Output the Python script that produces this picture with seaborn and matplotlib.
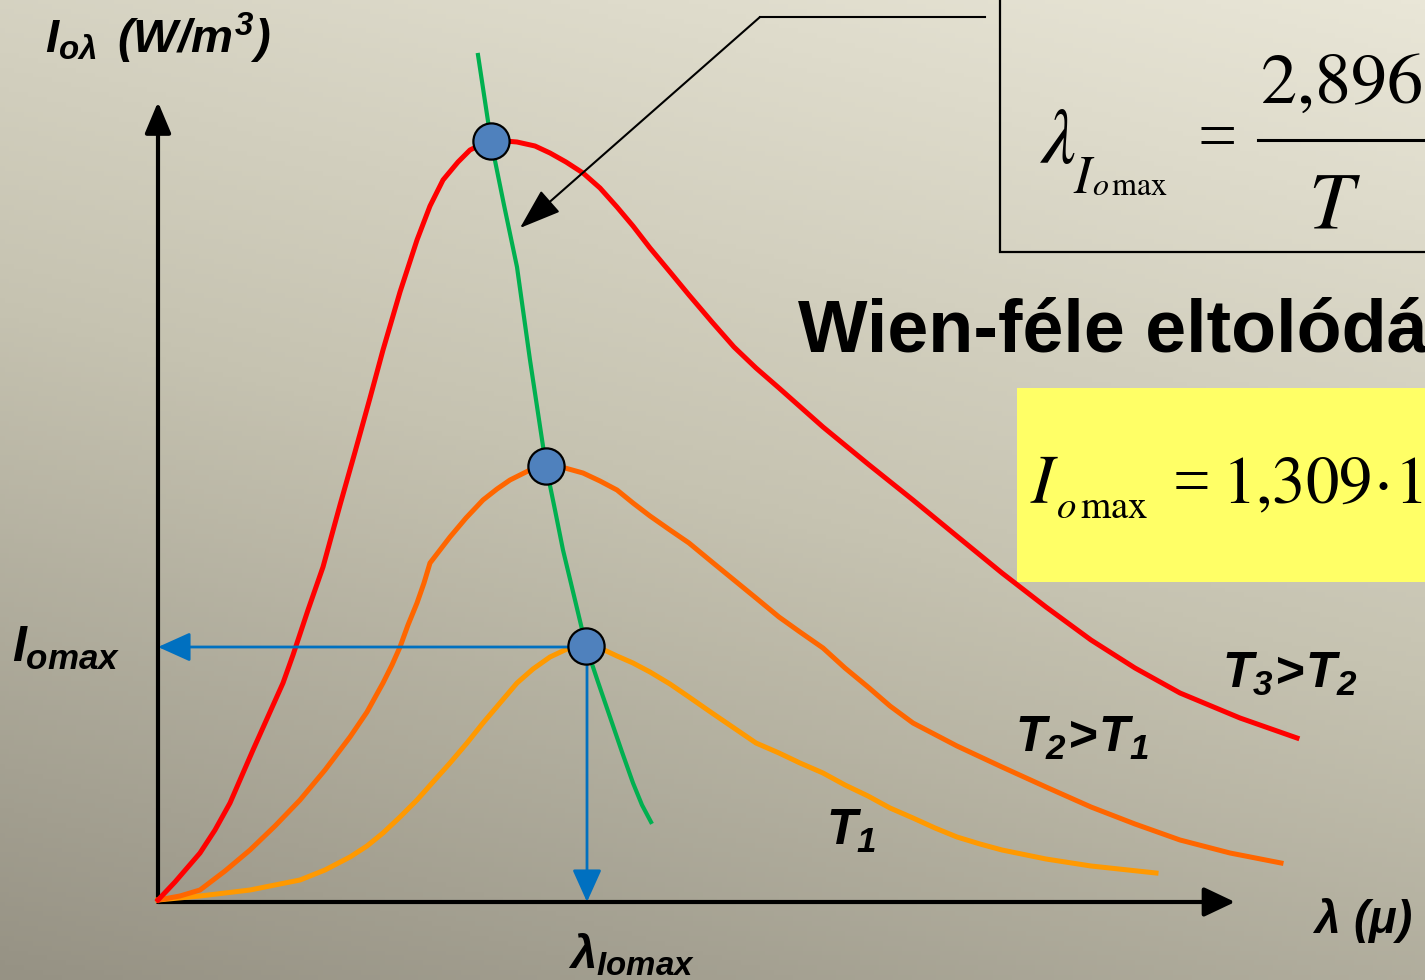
import numpy as np
import pandas as pd
import seaborn as sns
import matplotlib.pyplot as plt
from matplotlib.colors import LinearSegmentedColormap
from matplotlib.patches import Rectangle
from matplotlib.transforms import Affine2D

# Planck curves (axis units: origin at the axes corner)
lam_t3 = [0.00, 0.17, 0.42, 0.57, 0.72, 0.95, 1.12, 1.25, 1.35, 1.50, 1.65, 1.82, 1.97, 2.12,
          2.25, 2.42, 2.59, 2.72, 2.85, 3.00, 3.12, 3.22, 3.32, 3.47, 3.59, 3.77, 3.92, 4.08,
          4.25, 4.42, 4.59, 4.75, 4.92, 5.12, 5.31, 5.54, 5.76, 5.98, 6.21, 6.65, 7.10, 7.55,
          8.00, 8.44, 8.88, 9.33, 9.77, 10.22, 10.82, 11.39]
int_t3 = [0.02, 0.20, 0.49, 0.72, 0.99, 1.52, 1.90, 2.19, 2.47, 2.92, 3.35, 3.97, 4.50, 5.04,
          5.52, 6.10, 6.62, 6.96, 7.22, 7.40, 7.52, 7.57, 7.60, 7.61, 7.60, 7.56, 7.49, 7.40,
          7.29, 7.14, 6.95, 6.76, 6.54, 6.30, 6.07, 5.80, 5.55, 5.34, 5.14, 4.75, 4.38, 4.02,
          3.65, 3.29, 2.95, 2.62, 2.34, 2.09, 1.84, 1.64]

lam_t2 = [0.00, 0.22, 0.42, 0.67, 0.92, 1.17, 1.42, 1.67, 1.92, 2.09, 2.25, 2.34, 2.42, 2.50,
          2.59, 2.66, 2.72, 2.82, 2.92, 3.08, 3.25, 3.39, 3.52, 3.72, 3.88, 4.07, 4.25, 4.42,
          4.59, 4.75, 4.92, 5.12, 5.31, 5.54, 5.76, 5.98, 6.21, 6.42, 6.65, 6.87, 7.10, 7.32,
          7.55, 7.99, 8.44, 8.88, 9.33, 9.77, 10.22, 10.72, 11.23]
int_t2 = [0.02, 0.06, 0.12, 0.31, 0.52, 0.76, 1.02, 1.32, 1.65, 1.90, 2.19, 2.37, 2.55, 2.77,
          2.99, 3.19, 3.39, 3.52, 3.65, 3.84, 4.02, 4.13, 4.22, 4.32, 4.36, 4.34, 4.29, 4.21,
          4.12, 3.99, 3.86, 3.72, 3.59, 3.40, 3.22, 3.04, 2.85, 2.70, 2.54, 2.34, 2.15, 1.96,
          1.79, 1.56, 1.35, 1.15, 0.95, 0.78, 0.62, 0.49, 0.39]

lam_t1 = [0.00, 0.42, 0.92, 1.42, 1.67, 1.92, 2.09, 2.25, 2.42, 2.59, 2.75, 2.92, 3.09, 3.25,
          3.42, 3.59, 3.75, 3.92, 4.09, 4.28, 4.42, 4.59, 4.75, 4.92, 5.12, 5.31, 5.54, 5.76,
          5.98, 6.21, 6.42, 6.65, 6.87, 7.10, 7.32, 7.55, 7.77, 7.99, 8.22, 8.44, 8.88, 9.33, 9.98]
int_t1 = [0.02, 0.06, 0.12, 0.22, 0.32, 0.45, 0.56, 0.69, 0.85, 1.02, 1.20, 1.39, 1.59, 1.79,
          1.99, 2.19, 2.33, 2.45, 2.53, 2.56, 2.54, 2.46, 2.39, 2.30, 2.18, 2.05, 1.89, 1.74,
          1.59, 1.49, 1.39, 1.29, 1.17, 1.06, 0.94, 0.84, 0.74, 0.65, 0.58, 0.52, 0.43, 0.36, 0.29]

# Wien displacement line through the maxima
lam_wien = [3.20, 3.33, 3.46, 3.59, 3.72, 3.88, 3.97, 4.05, 4.17, 4.28, 4.40, 4.52, 4.64, 4.75, 4.84, 4.93]
int_wien = [8.47, 7.61, 6.97, 6.35, 5.42, 4.36, 3.92, 3.52, 3.02, 2.56, 2.20, 1.85, 1.50, 1.19, 0.97, 0.80]

peak_lam = [3.33, 3.88, 4.28]
peak_int = [7.61, 4.36, 2.56]

# figure
fig = plt.figure(figsize=(14.25, 9.8), dpi=100)
ax = fig.add_axes([0, 0, 1, 1])
xlim = (-1.58, 12.67)
ylim = (-0.78, 9.02)

# slide background: light top-right to darker bottom-left
yy, xx = np.mgrid[0:1:200j, 0:1:300j]
grad = 0.72 * yy + 0.28 * (1 - xx)
bg = LinearSegmentedColormap.from_list('bg', ['#e9e6d7', '#c6c3b1', '#969284'])
ax.imshow(grad, cmap=bg, extent=(xlim[0], xlim[1], ylim[0], ylim[1]), aspect='auto', zorder=0)
ax.set_xlim(xlim)
ax.set_ylim(ylim)
ax.axis('off')

# pixel transform for slide decorations (y downward)
tf = Affine2D().scale(1 / 1425, -1 / 980).translate(0, 1) + fig.transFigure

# axes arrows
ax.annotate('', xy=(0, 8.0), xytext=(0, 0), arrowprops=dict(
    arrowstyle='-|>,head_length=0.95,head_width=0.4', color='black', lw=3,
    mutation_scale=20, shrinkA=0, shrinkB=0), zorder=3)
ax.annotate('', xy=(10.77, 0), xytext=(0, 0), arrowprops=dict(
    arrowstyle='-|>,head_length=0.95,head_width=0.45', color='black', lw=3,
    mutation_scale=20, shrinkA=0, shrinkB=0), zorder=3)

# curves
sns.lineplot(x=lam_t1, y=int_t1, sort=False, estimator=None, color='#ff9900', lw=3.6, ax=ax, zorder=4)
sns.lineplot(x=lam_t2, y=int_t2, sort=False, estimator=None, color='#ff6600', lw=3.6, ax=ax, zorder=4)
sns.lineplot(x=lam_t3, y=int_t3, sort=False, estimator=None, color='#ff0000', lw=3.6, ax=ax, zorder=4)
sns.lineplot(x=lam_wien, y=int_wien, sort=False, estimator=None, color='#00b050', lw=3, ax=ax, zorder=5)

# blue read-off arrows from the T1 maximum
ax.annotate('', xy=(0.0, peak_int[2] - 0.01), xytext=(peak_lam[2], peak_int[2] - 0.01), arrowprops=dict(
    arrowstyle='-|>,head_length=1.0,head_width=0.45', color='#0070c0', lw=2,
    mutation_scale=20, shrinkA=0, shrinkB=0), zorder=5)
ax.annotate('', xy=(peak_lam[2] + 0.01, 0.0), xytext=(peak_lam[2] + 0.01, peak_int[2]), arrowprops=dict(
    arrowstyle='-|>,head_length=1.0,head_width=0.45', color='#0070c0', lw=2,
    mutation_scale=20, shrinkA=0, shrinkB=0), zorder=5)

sns.scatterplot(x=peak_lam, y=peak_int, s=680, color='#4f81bd', edgecolor='black',
                linewidth=1.6, ax=ax, zorder=6)

# pointer from formula box to the Wien line
ax.plot([985, 760], [17, 17], color='black', lw=1.5, transform=tf, zorder=5)
ax.annotate('', xy=(520, 228), xytext=(760, 17), xycoords=tf, textcoords=tf, arrowprops=dict(
    arrowstyle='-|>,head_length=1.3,head_width=0.45', color='black', lw=1.5,
    mutation_scale=20, shrinkA=0, shrinkB=0), zorder=5)

# formula boxes
ax.add_patch(Rectangle((1000, -20), 600, 272, transform=tf, fill=False, ec='black', lw=1.6, zorder=2))
ax.add_patch(Rectangle((1017, 388), 600, 194, transform=tf, fc='#ffff66', ec='none', zorder=2))

plt.rcParams['mathtext.fontset'] = 'custom'
plt.rcParams['mathtext.rm'] = 'Liberation Sans:bold:italic'
plt.rcParams['mathtext.it'] = 'Liberation Sans:bold:italic'
plt.rcParams['mathtext.bf'] = 'Liberation Sans:bold:italic'

lab = dict(transform=tf, va='baseline', ha='left', color='black', zorder=7)
ax.text(45, 53, r'$I_{o\lambda}$', fontsize=34, **lab)
ax.text(117, 53, r'$(W/m^3)$', fontsize=34, **lab)
ax.text(12, 662, r'$I_{omax}$', fontsize=36, **lab)
ax.text(568, 968, r'$\lambda_{Iomax}$', fontsize=34, **lab)
ax.text(1312, 933, r'$\lambda\ (\mu)$', fontsize=33, **lab)
ax.text(826, 845, r'$T_1$', fontsize=36, **lab)
ax.text(1015, 752, r'$T_2\!>\!T_1$', fontsize=36, **lab)
ax.text(1222, 688, r'$T_3\!>\!T_2$', fontsize=36, **lab)
ax.text(798, 352, 'Wien-féle eltolódási törvény', fontsize=53, fontweight='bold',
        family='Liberation Sans', **lab)

# Wien's law formula
ax.text(1040, 163, r'$\lambda$', fontsize=56, math_fontfamily='stix', **lab)
ax.text(1073, 193, r'$I$', fontsize=38, math_fontfamily='stix', **lab)
ax.text(1092, 195, r'$o\,\mathrm{max}$', fontsize=23, math_fontfamily='stix', **lab)
ax.text(1198, 159, '=', fontsize=50, family='Liberation Serif', **lab)
ax.text(1260, 103, r'$2{,}896\cdot 10^{-3}$', fontsize=52, math_fontfamily='stix', **lab)
ax.plot([1258, 1600], [140, 140], color='black', lw=2.2, transform=tf, zorder=7)
ax.text(1308, 227, r'$T$', fontsize=58, math_fontfamily='stix', **lab)

# maximum intensity formula
ax.text(1030, 503, r'$I$', fontsize=50, math_fontfamily='stix', **lab)
ax.text(1056, 518, r'$o\,\mathrm{max}$', fontsize=28, math_fontfamily='stix', **lab)
ax.text(1173, 503, '=', fontsize=48, family='Liberation Serif', **lab)
ax.text(1222, 503, r'$1{,}309\!\cdot\!10^{-5}\,T^{5}$', fontsize=48, math_fontfamily='stix', **lab)

fig.savefig('out.png', dpi=100)
